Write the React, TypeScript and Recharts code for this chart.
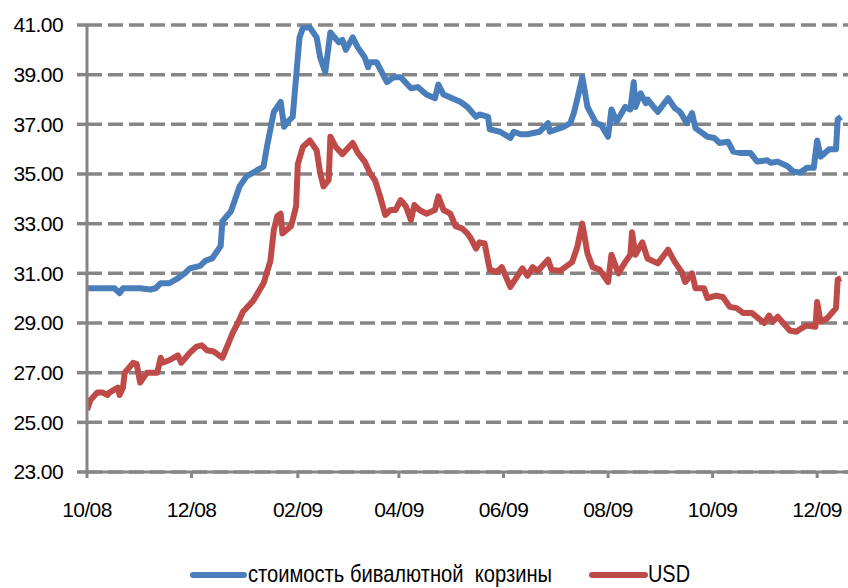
import { LineChart, Line, XAxis, YAxis, CartesianGrid } from "recharts";

// days since 01.10.2008
const basketDays = [
  0, 8, 16, 19, 21, 31, 37, 40, 43, 48, 53, 57, 60, 66, 69, 73, 75, 78, 79, 84, 89, 93, 98, 103, 105,
  109, 113, 115, 117, 120, 123, 124, 126, 130, 134, 136, 139, 142, 147, 149, 151, 155, 158, 162, 164,
  165, 169, 175, 179, 183, 189, 193, 198, 203, 205, 208, 218, 222, 227, 229, 234, 235, 241, 247, 249,
  253, 257, 264, 269, 270, 278, 282, 284, 286, 289, 292, 297, 300, 304, 306, 309, 314, 317, 319, 320,
  323, 326, 327, 333, 339, 343, 346, 350, 353, 355, 362, 366, 369, 374, 377, 381, 387, 391, 397, 399,
  403, 409, 412, 416, 420, 424, 426, 428, 433, 437, 438, 440,
];
const basketValues = [
  30.4, 30.4, 30.4, 30.2, 30.4, 30.4, 30.35, 30.4, 30.6, 30.6, 30.8, 31.0, 31.2, 31.3, 31.5, 31.6, 31.8,
  32.1, 33.1, 33.5, 34.5, 34.9, 35.1, 35.3, 36.1, 37.5, 37.9, 36.9, 37.1, 37.3, 39.7, 40.5, 40.9, 40.9,
  40.5, 39.7, 39.1, 40.7, 40.3, 40.4, 40.0, 40.5, 40.1, 39.7, 39.3, 39.5, 39.5, 38.7, 38.9, 38.9, 38.45,
  38.5, 38.2, 38.05, 38.6, 38.2, 37.9, 37.7, 37.3, 37.4, 37.3, 36.8, 36.7, 36.45, 36.7, 36.6, 36.6,
  36.7, 37.05, 36.7, 36.9, 37.05, 37.45, 38.0, 38.9, 37.7, 37.05, 36.97, 36.5, 37.6, 37.1, 37.7, 37.6,
  38.7, 37.7, 38.25, 37.85, 38.0, 37.5, 38.05, 37.65, 37.5, 37.05, 37.45, 36.85, 36.5, 36.45, 36.25,
  36.3, 35.9, 35.85, 35.85, 35.5, 35.55, 35.45, 35.5, 35.3, 35.1, 35.05, 35.25, 35.25, 36.35, 35.7,
  36.0, 36.0, 37.2, 37.3,
];

const usdDays = [
  0, 2, 6, 9, 12, 13, 18, 19, 21, 22, 27, 29, 31, 33, 35, 41, 43, 44, 48, 53, 55, 60, 64, 67, 70, 74,
  79, 82, 85, 88, 91, 97, 103, 107, 109, 111, 113, 114, 119, 120, 122, 123, 126, 130, 134, 136, 138,
  141, 142, 145, 149, 155, 158, 162, 165, 168, 171, 174, 177, 180, 183, 186, 189, 191, 194, 198, 203,
  205, 208, 212, 215, 219, 222, 224, 227, 229, 232, 235, 239, 242, 247, 254, 257, 260, 263, 269, 271,
  276, 279, 283, 286, 289, 292, 295, 299, 304, 306, 310, 314, 317, 318, 320, 324, 327, 333, 339, 343,
  347, 349, 353, 355, 360, 362, 367, 371, 375, 379, 383, 388, 395, 398, 400, 403, 410, 414, 416, 420,
  425, 426, 428, 432, 437, 438, 440,
];
const usdValues = [
  25.5, 25.9, 26.2, 26.2, 26.1, 26.2, 26.4, 26.1, 26.4, 27.0, 27.4, 27.35, 26.6, 26.8, 27.0, 27.0, 27.6,
  27.4, 27.5, 27.7, 27.4, 27.8, 28.05, 28.1, 27.9, 27.85, 27.6, 28.1, 28.6, 29.0, 29.45, 29.9, 30.6,
  31.5, 32.75, 33.3, 33.4, 32.6, 32.9, 33.15, 33.7, 35.4, 36.1, 36.35, 35.95, 35.05, 34.5, 34.75, 36.5,
  36.1, 35.8, 36.25, 35.85, 35.5, 35.05, 34.75, 34.1, 33.35, 33.55, 33.55, 33.95, 33.7, 33.15, 33.75,
  33.55, 33.4, 33.55, 34.1, 33.55, 33.4, 32.9, 32.8, 32.6, 32.4, 32.0, 32.25, 32.2, 31.15, 31.05, 31.25,
  30.45, 31.2, 30.9, 31.25, 31.1, 31.55, 31.15, 31.1, 31.25, 31.45, 32.05, 33.0, 31.8, 31.25, 31.15,
  30.65, 31.75, 31.0, 31.45, 31.75, 32.65, 31.75, 32.25, 31.6, 31.4, 31.95, 31.45, 31.05, 30.65, 31.0,
  30.4, 30.4, 30.0, 30.1, 30.05, 29.65, 29.6, 29.4, 29.4, 29.0, 29.3, 29.05, 29.25, 28.7, 28.65, 28.75,
  28.9, 28.85, 29.85, 29.05, 29.2, 29.6, 30.75, 30.8,
];

const tickDays = [0, 61, 123, 182, 243, 304, 365, 426];
const tickLabels = ["10/08", "12/08", "02/09", "04/09", "06/09", "08/09", "10/09", "12/09"];
const yTicks = [23, 25, 27, 29, 31, 33, 35, 37, 39, 41];

const BLUE = "#4A7EBB";
const RED = "#BE4B48";
const GRID = "#868686";
const FONT = "'Liberation Sans', Arial, sans-serif";

const basketData = basketDays.map((d, i) => ({ d, v: basketValues[i] }));
const usdData = usdDays.map((d, i) => ({ d, v: usdValues[i] }));

const tickStyle = { fontSize: 21, fill: "#000", fontFamily: FONT, letterSpacing: -0.6 };

function ChartLegend() {
  const text = { fontFamily: FONT, fontSize: 24, fill: "#000" };
  return (
    <svg width={848} height={588} style={{ position: "absolute", left: 0, top: 0, pointerEvents: "none" }}>
      <line x1={193} y1={575} x2={244} y2={575} stroke={BLUE} strokeWidth={6} strokeLinecap="round" />
      <text x={248} y={582} {...text} textLength={304} lengthAdjust="spacingAndGlyphs" xmlSpace="preserve">
        стоимость бивалютной  корзины
      </text>
      <line x1={592} y1={575} x2={645} y2={575} stroke={RED} strokeWidth={6} strokeLinecap="round" />
      <text x={648} y={582} {...text} textLength={42} lengthAdjust="spacingAndGlyphs">
        USD
      </text>
    </svg>
  );
}

export default function App() {
  return (
    <div style={{ position: "relative", width: 848, height: 588, background: "#fff", overflow: "hidden" }}>
      <style>{`body{margin:0}`}</style>
      <LineChart width={848} height={588} margin={{ top: 25, right: 0, left: 0, bottom: 76 }}>
        <CartesianGrid
          horizontal
          vertical={false}
          stroke={GRID}
          strokeWidth={3.5}
          strokeDasharray="15 6"
        />
        <XAxis
          type="number"
          dataKey="d"
          domain={[0, 444]}
          ticks={tickDays}
          tickFormatter={(v) => tickLabels[tickDays.indexOf(v)] ?? ""}
          height={40}
          tickSize={6}
          tickMargin={24}
          tick={tickStyle}
          axisLine={{ stroke: GRID, strokeWidth: 3 }}
          tickLine={{ stroke: GRID, strokeWidth: 3 }}
          allowDataOverflow
        />
        <YAxis
          type="number"
          domain={[23, 41]}
          ticks={yTicks}
          tickFormatter={(v) => v.toFixed(2)}
          width={87}
          tickSize={10}
          tickMargin={14}
          tick={tickStyle}
          axisLine={{ stroke: GRID, strokeWidth: 3 }}
          tickLine={{ stroke: GRID, strokeWidth: 3.5 }}
          allowDataOverflow
        />
        <Line
          data={basketData}
          dataKey="v"
          type="linear"
          stroke={BLUE}
          strokeWidth={6}
          strokeLinejoin="round"
          dot={false}
          isAnimationActive={false}
        />
        <Line
          data={usdData}
          dataKey="v"
          type="linear"
          stroke={RED}
          strokeWidth={6}
          strokeLinejoin="round"
          dot={false}
          isAnimationActive={false}
        />
      </LineChart>
      <ChartLegend />
    </div>
  );
}
